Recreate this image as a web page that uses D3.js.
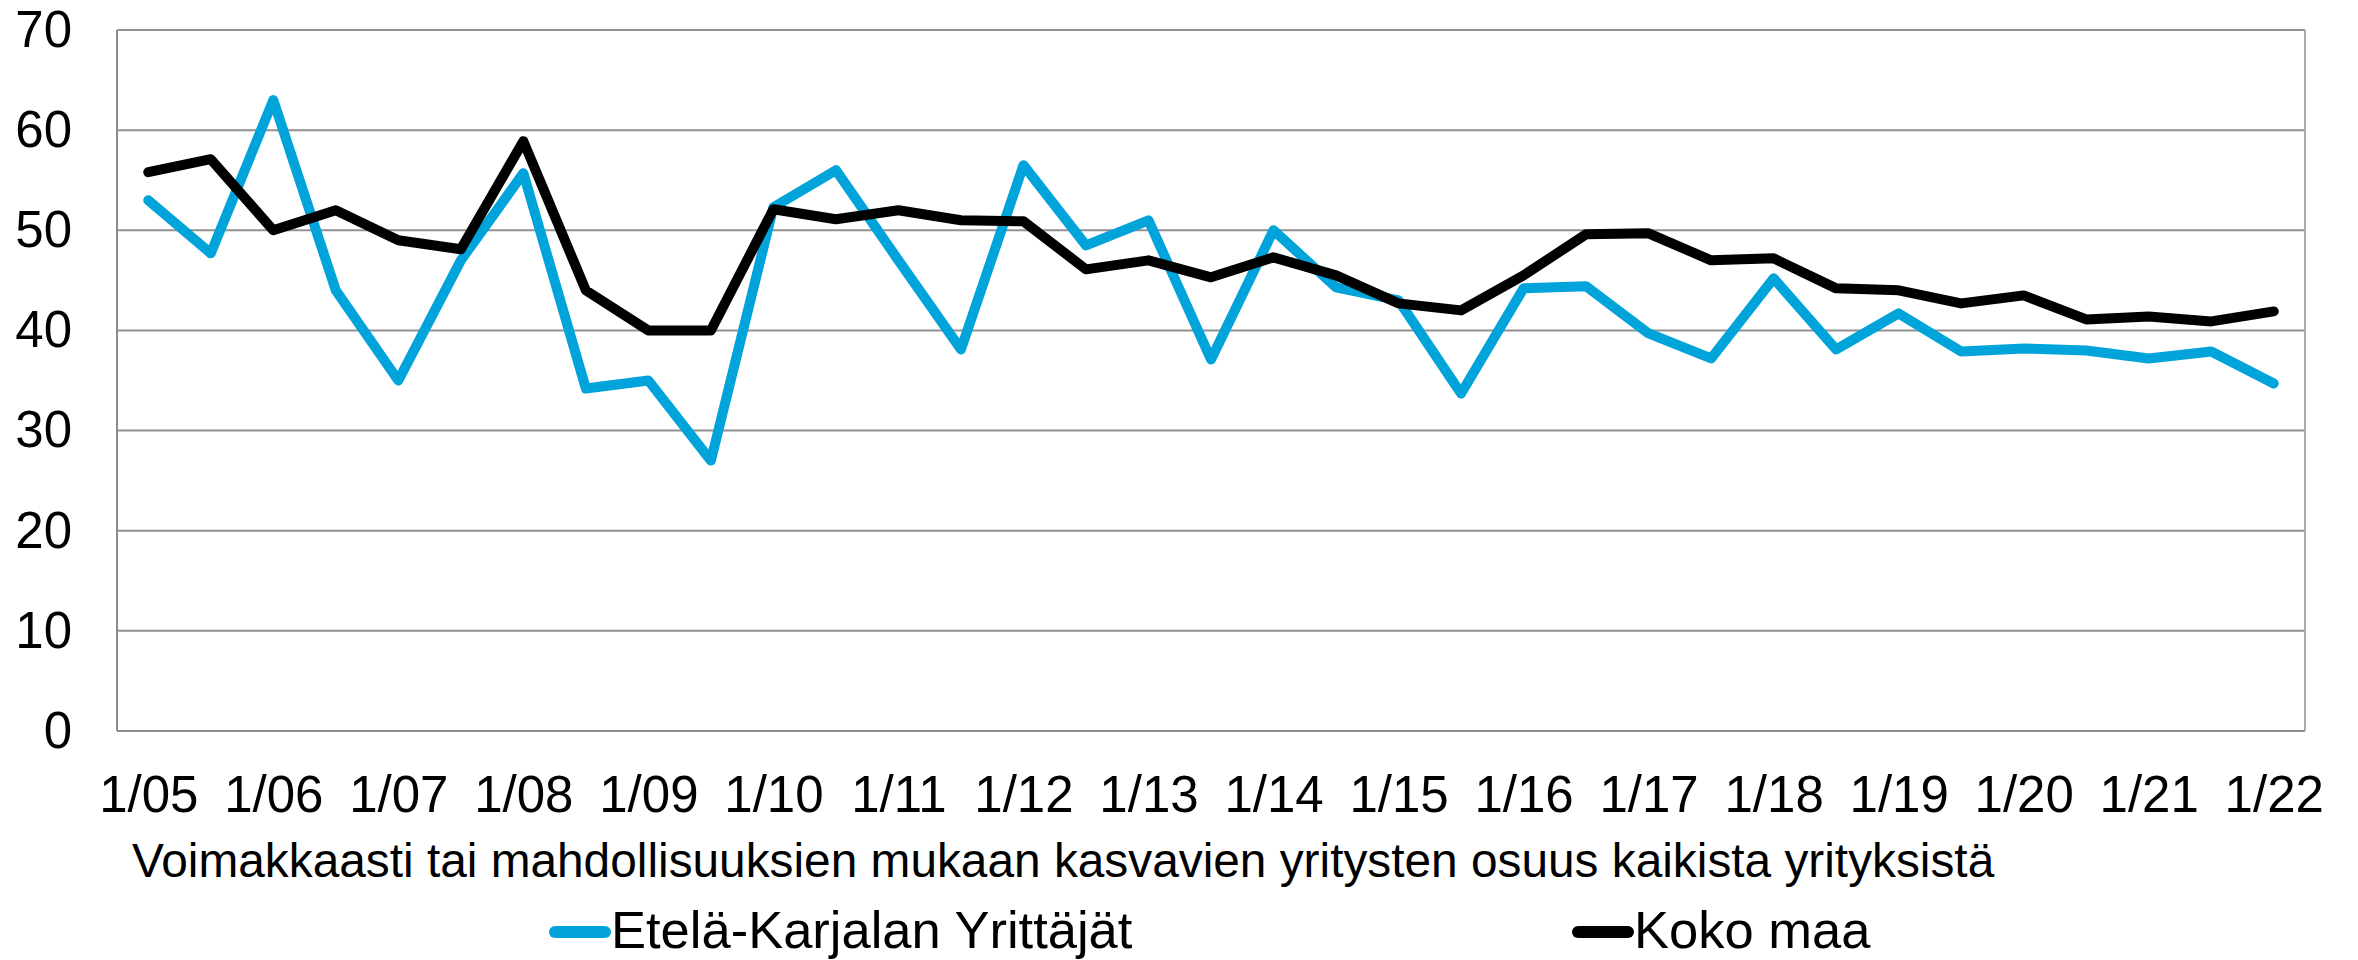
<!DOCTYPE html>
<html>
<head>
<meta charset="utf-8">
<script src="https://cdn.jsdelivr.net/npm/d3@7"></script>
<style>
  body { margin: 0; background: #fff; }
  text { font-family: "Liberation Sans", Arial, sans-serif; fill: #000; }
</style>
</head>
<body>
<div id="chart-area"></div>
<script>
// half-year observations, labelled every January
let periods = ["1/05","7/05","1/06","7/06","1/07","7/07","1/08","7/08","1/09","7/09",
  "1/10","7/10","1/11","7/11","1/12","7/12","1/13","7/13","1/14","7/14",
  "1/15","7/15","1/16","7/16","1/17","7/17","1/18","7/18","1/19","7/19",
  "1/20","7/20","1/21","7/21","1/22"];

let etelaKarjala = [53.0, 47.7, 63.0, 44.0, 35.0, 47.0, 55.7, 34.2, 35.0, 27.0,
  52.3, 56.0, 47.0, 38.1, 56.5, 48.5, 51.0, 37.1, 50.0, 44.3,
  43.0, 33.7, 44.2, 44.4, 39.7, 37.2, 45.2, 38.1, 41.7, 37.9,
  38.2, 38.0, 37.2, 37.9, 34.7];

let kokoMaa = [55.8, 57.1, 50.0, 52.0, 49.0, 48.1, 58.9, 44.0, 40.0, 40.0,
  52.1, 51.1, 52.0, 51.0, 50.9, 46.1, 47.0, 45.3, 47.3, 45.5,
  42.7, 42.0, 45.5, 49.6, 49.7, 47.0, 47.2, 44.2, 44.0, 42.7,
  43.5, 41.1, 41.4, 40.9, 41.9];

let seriesNames = ["Etelä-Karjalan Yrittäjät", "Koko maa"];
let seriesColors = ["#00a4db", "#000000"];
let yTicks = [0, 10, 20, 30, 40, 50, 60, 70];
let axisTitle = "Voimakkaasti tai mahdollisuuksien mukaan kasvavien yritysten osuus kaikista yrityksistä";

let margin = { left: 117, right: 53, top: 30, bottom: 229 };
let width = 2358 - margin.left - margin.right;
let height = 960 - margin.top - margin.bottom;

let svg = d3.select("#chart-area")
  .append("svg")
    .attr("width", 2358)
    .attr("height", 960);

let g = svg.append("g")
  .attr("transform", "translate(" + margin.left + "," + margin.top + ")");

let x = d3.scalePoint()
  .domain(periods)
  .range([0, width])
  .padding(0.5);

let y = d3.scaleLinear()
  .domain([0, 70])
  .range([height, 0]);

// gridlines
g.selectAll(".grid")
  .data(yTicks)
  .enter()
  .append("line")
    .attr("class", "grid")
    .attr("x1", 0)
    .attr("x2", width)
    .attr("y1", d => y(d))
    .attr("y2", d => y(d))
    .attr("stroke", d => d === 0 ? "#8c8c8c" : "#919191")
    .attr("stroke-width", 2);

// right border + left axis line
g.append("line")
  .attr("x1", width).attr("x2", width)
  .attr("y1", 0).attr("y2", height)
  .attr("stroke", "#ababab").attr("stroke-width", 2);
g.append("line")
  .attr("x1", 0).attr("x2", 0)
  .attr("y1", 0).attr("y2", height)
  .attr("stroke", "#8c8c8c").attr("stroke-width", 2);

// Y axis
let yAxisCall = d3.axisLeft(y)
  .tickValues(yTicks)
  .tickSize(0)
  .tickPadding(45);
let yAxisGroup = g.append("g").call(yAxisCall);
yAxisGroup.select(".domain").remove();
yAxisGroup.selectAll("text")
  .attr("font-size", "51px")
  .attr("font-family", "Liberation Sans, Arial, sans-serif")
  .attr("fill", "#000");

// X axis, label only January
let xAxisCall = d3.axisBottom(x)
  .tickSize(0)
  .tickPadding(45)
  .tickFormat(d => d.startsWith("1/") ? d : "");
let xAxisGroup = g.append("g")
  .attr("transform", "translate(0," + height + ")")
  .call(xAxisCall);
xAxisGroup.select(".domain").remove();
xAxisGroup.selectAll("text")
  .attr("font-size", "51px")
  .attr("font-family", "Liberation Sans, Arial, sans-serif")
  .attr("fill", "#000");

// axis title
svg.append("text")
  .attr("x", 132)
  .attr("y", 877)
  .attr("font-size", "47.8px")
  .text(axisTitle);

// lines
let line = d3.line()
  .x((d, i) => x(periods[i]))
  .y(d => y(d));

[etelaKarjala, kokoMaa].forEach(function(values, idx){
  g.append("path")
    .datum(values)
    .attr("d", line)
    .attr("fill", "none")
    .attr("stroke", seriesColors[idx])
    .attr("stroke-width", 10)
    .attr("stroke-linejoin", "round")
    .attr("stroke-linecap", "round");
});

// legend
let legendX = [549, 1572];
seriesNames.forEach(function(name, i){
  let row = svg.append("g")
    .attr("transform", "translate(" + legendX[i] + ",932)");
  row.append("line")
    .attr("x1", 6).attr("x2", 56)
    .attr("y1", 0).attr("y2", 0)
    .attr("stroke", seriesColors[i])
    .attr("stroke-width", 12)
    .attr("stroke-linecap", "round");
  row.append("text")
    .attr("x", 62)
    .attr("y", 16)
    .attr("font-size", "52.5px")
    .text(name);
});
</script>
</body>
</html>
